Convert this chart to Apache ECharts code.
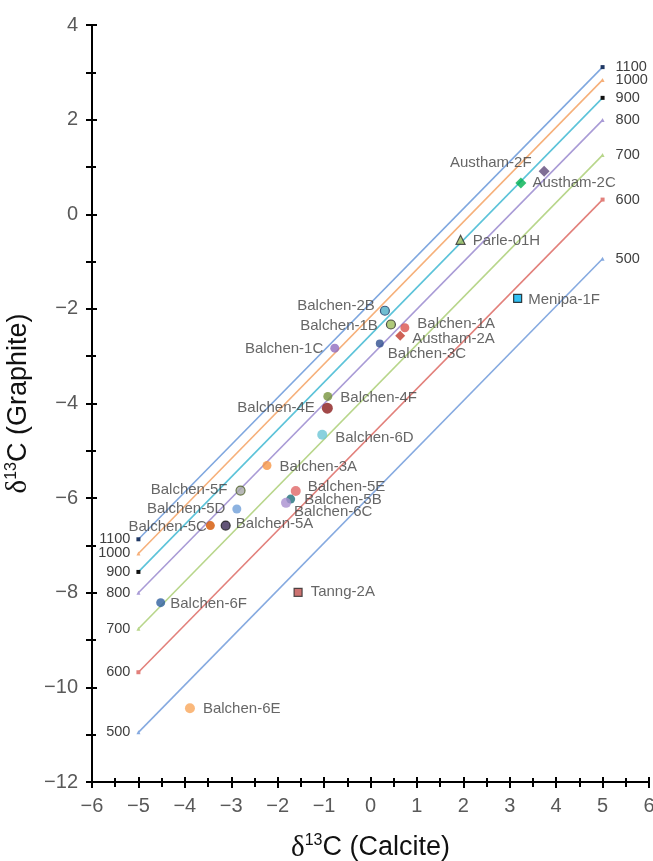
<!DOCTYPE html>
<html>
<head>
<meta charset="utf-8">
<script src="https://cdn.jsdelivr.net/npm/echarts/dist/echarts.min.js"></script>
<style>
html,body{margin:0;padding:0;background:#fff;}
#chart{width:653px;height:861px;}
</style>
</head>
<body>
<div id="chart"></div>
<script>
// ---- Data ----
const isoTemps = ['1100', '1000', '900', '800', '700', '600', '500'];
const isoX = [-5, 5];
const isoGraphiteAtLeft = [-6.87, -7.17, -7.56, -8.00, -8.76, -9.68, -10.95];
const isoGraphiteAtRight = [3.11, 2.84, 2.46, 1.99, 1.25, 0.31, -0.94];

const sampleNames = ['Austham-2F', 'Austham-2C', 'Parle-01H', 'Menipa-1F', 'Balchen-2B', 'Balchen-1B',
  'Balchen-1A', 'Austham-2A', 'Balchen-3C', 'Balchen-1C', 'Balchen-4F', 'Balchen-4E', 'Balchen-6D',
  'Balchen-3A', 'Balchen-5F', 'Balchen-5E', 'Balchen-5B', 'Balchen-6C', 'Balchen-5D', 'Balchen-5C',
  'Balchen-5A', 'Balchen-6F', 'Tanng-2A', 'Balchen-6E'];
const calciteValues = [3.74, 3.24, 1.94, 3.17, 0.31, 0.44, 0.74, 0.64, 0.20, -0.77, -0.92, -0.93, -1.04,
  -2.23, -2.80, -1.61, -1.72, -1.82, -2.88, -3.45, -3.12, -4.52, -1.56, -3.89];
const graphiteValues = [0.91, 0.66, -0.54, -1.78, -2.04, -2.33, -2.40, -2.57, -2.73, -2.83, -3.85, -4.10, -4.66,
  -5.31, -5.84, -5.85, -6.02, -6.10, -6.23, -6.58, -6.58, -8.21, -7.99, -10.44];

const xTicks = [-6, 6, 1];
const yTicks = [-12, 4, 2];

// ---- Styles ----
const isoColors = ['#7fa7df', '#f6b07a', '#5cc3d9', '#a99bd6', '#b8d68b', '#e2807b', '#86aae0'];
const isoSymbols = ['rect', 'triangle', 'rect', 'triangle', 'triangle', 'rect', 'triangle'];
const isoSymbolColors = ['#1f3864', '#f6b07a', '#111', '#a99bd6', '#b8d68b', '#e2807b', '#86aae0'];

// [symbol, size, fill, border, labelSide, dx, dy]
const sampleStyles = [
  ['diamond', 11, '#5f4a7b', null, 'left', -2, -8],
  ['diamond', 11, '#00b050', null, 'right', 1, 0],
  ['triangle', 9, '#9bbb59', '#2b2b2b', 'right', 2, 1],
  ['rect', 8, '#00b0f0', '#111', 'right', 1, 1],
  ['circle', 9, '#4bacc6', '#1f3864', 'left', 0, -5],
  ['circle', 9, '#9bbb59', '#2b2b2b', 'left', -3, 1],
  ['circle', 9, '#d9534f', null, 'right', 3, -4],
  ['diamond', 10, '#c0392b', null, 'right', 2, 3],
  ['circle', 8, '#2f4f8f', null, 'right', -1, 10],
  ['circle', 9, '#8e6bbf', null, 'left', -2, 1],
  ['circle', 9, '#77933c', null, 'right', 3, 1],
  ['circle', 11, '#8b1c1c', null, 'left', -2, 0],
  ['circle', 10, '#6cc5d6', null, 'right', 3, 3],
  ['circle', 9, '#f79646', null, 'right', 3, 1],
  ['circle', 9, '#a6a6a6', '#4f6228', 'left', -3, -1],
  ['circle', 10, '#e06666', null, 'right', 2, -4],
  ['circle', 9, '#1f6f7a', null, 'right', 4, 1],
  ['circle', 10, '#a98fd0', null, 'right', -2, 9],
  ['circle', 9, '#6f9fd8', null, 'left', -2, 0],
  ['circle', 9, '#d35400', null, 'left', 6, 1],
  ['circle', 9, '#3b2a55', '#1a1a1a', 'right', 0, -2],
  ['circle', 9, '#2e5f9e', null, 'right', 0, 1],
  ['rect', 8, '#c0504d', '#2b2b2b', 'right', 3, 0],
  ['circle', 10, '#f9a65a', null, 'right', 3, 1]
];

const fmtNum = v => (v < 0 ? '\u2212' + Math.abs(v) : String(v));
const labelFont = 'Liberation Sans, Arial, sans-serif';

const series = [];
isoTemps.forEach((t, i) => {
  series.push({
    type: 'line',
    xAxisIndex: 0, yAxisIndex: 0,
    silent: true,
    animation: false,
    symbol: isoSymbols[i],
    symbolSize: 4,
    showSymbol: true,
    lineStyle: { color: isoColors[i], width: 1.6 },
    itemStyle: { color: isoSymbolColors[i] },
    z: 2,
    data: [
      { value: [isoX[0], isoGraphiteAtLeft[i]],
        label: { show: true, position: 'left', distance: 6, formatter: t } },
      { value: [isoX[1], isoGraphiteAtRight[i]],
        label: { show: true, position: 'right', distance: 11, formatter: t } }
    ],
    label: { color: '#404040', fontSize: 14.5, fontFamily: labelFont }
  });
});

const scatterData = sampleNames.map((n, i) => {
  const s = sampleStyles[i];
  return {
    name: n,
    value: [calciteValues[i], graphiteValues[i]],
    symbol: s[0],
    symbolSize: s[1],
    itemStyle: { color: s[2], borderColor: s[3] || s[2], borderWidth: s[3] ? 1.2 : 0 },
    label: { position: s[4], offset: [s[5], s[6]] }
  };
});

series.push({
  type: 'scatter',
  xAxisIndex: 0, yAxisIndex: 0,
  animation: false,
  z: 5,
  data: scatterData,
  label: {
    show: true,
    formatter: '{b}',
    color: '#404040',
    fontSize: 15,
    fontFamily: labelFont,
    distance: 5
  }
});

const axisLabelStyle = { color: '#595959', fontSize: 20, fontFamily: labelFont };
const nameRich = {
  d: { fontFamily: 'Liberation Serif, Times New Roman, serif', fontSize: 29, color: '#111' },
  s: { fontFamily: labelFont, fontSize: 16, color: '#111', verticalAlign: 'top', padding: [0, 0, 14, 0] },
  t: { fontFamily: labelFont, fontSize: 27, color: '#111' }
};

function mkX(main) {
  return {
    type: 'value', gridIndex: 0, position: 'bottom',
    min: xTicks[0], max: xTicks[1], interval: xTicks[2],
    splitLine: { show: false },
    axisLine: { show: main, onZero: false, lineStyle: { color: '#000', width: 2 } },
    axisTick: { show: true, inside: !main, length: main ? 6 : 5, lineStyle: { color: '#000', width: 2 } },
    minorTick: { show: true, splitNumber: 2, length: main ? 5 : 4, lineStyle: { color: '#000', width: 2 } },
    axisLabel: main ? Object.assign({ margin: 14, formatter: fmtNum }, axisLabelStyle) : { show: false },
    name: main ? '{d|δ}{s|13}{t|C (Calcite)}' : '',
    nameLocation: 'middle',
    nameGap: 51,
    nameTextStyle: { rich: nameRich }
  };
}
function mkY(main) {
  return {
    type: 'value', gridIndex: 0, position: 'left',
    min: yTicks[0], max: yTicks[1], interval: yTicks[2],
    splitLine: { show: false },
    axisLine: { show: main, onZero: false, lineStyle: { color: '#000', width: 2 } },
    axisTick: { show: true, inside: !main, length: main ? 6 : 5, lineStyle: { color: '#000', width: 2 } },
    minorTick: { show: true, splitNumber: 2, length: main ? 6 : 4, lineStyle: { color: '#000', width: 2 } },
    axisLabel: main ? Object.assign({ margin: 14, formatter: fmtNum }, axisLabelStyle) : { show: false },
    name: main ? '{d|δ}{s|13}{t|C (Graphite)}' : '',
    nameLocation: 'middle',
    nameGap: 50,
    nameTextStyle: { rich: nameRich }
  };
}

const chart = echarts.init(document.getElementById('chart'), null, { renderer: 'canvas' });
chart.setOption({
  backgroundColor: '#fff',
  animation: false,
  grid: { left: 92, right: 4, top: 25, bottom: 79, containLabel: false, outerBoundsMode: 'none' },
  xAxis: [mkX(true), mkX(false)],
  yAxis: [mkY(true), mkY(false)],
  series: series
});
</script>
</body>
</html>
